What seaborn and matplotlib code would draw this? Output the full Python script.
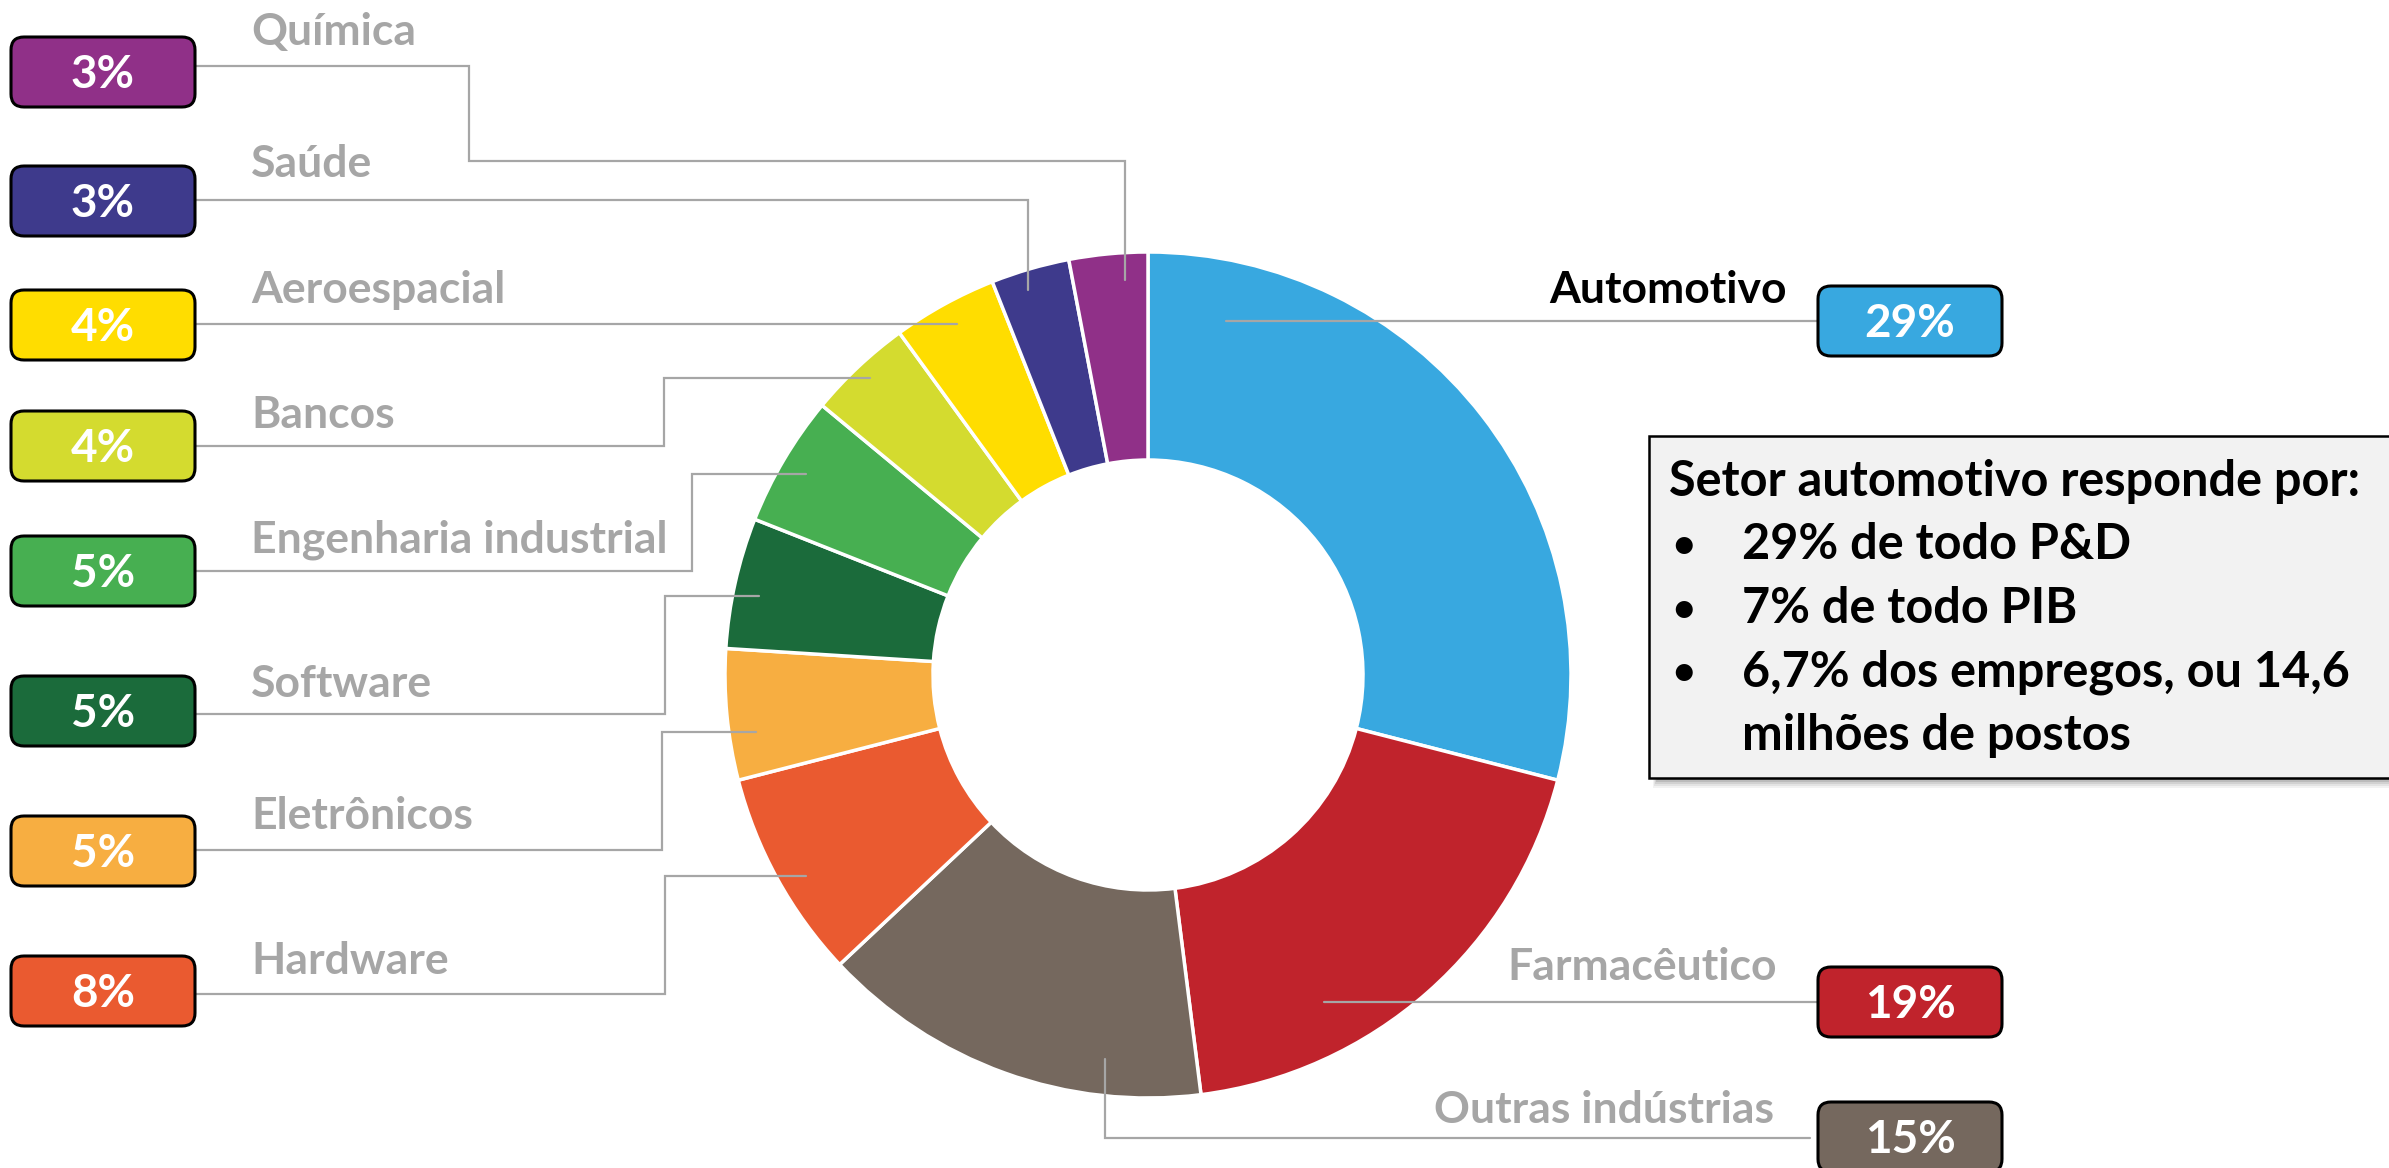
import numpy as np
import matplotlib
matplotlib.use("Agg")
import matplotlib.pyplot as plt
from matplotlib import font_manager
from matplotlib.patches import FancyBboxPatch, Rectangle
import seaborn as sns

# data, clockwise from the top
sectors = ["Automotivo", "Farmacêutico", "Outras indústrias", "Hardware", "Eletrônicos",
           "Software", "Engenharia industrial", "Bancos", "Aeroespacial", "Saúde", "Química"]
shares = [29, 19, 15, 8, 5, 5, 5, 4, 4, 3, 3]
colors = ["#38A8E0", "#C0232C", "#75685E", "#EA5A30", "#F7AE41", "#1B6B3B",
          "#47AF51", "#D4DB2F", "#FFDD00", "#3E3A8C", "#903088"]
summary_title = "Setor automotivo responde por:"
summary_items = ["29% de todo P&D", "7% de todo PIB", "6,7% dos empregos, ou 14,6", "milhões de postos"]
summary_bullets = [True, True, True, False]

# canvas in pixels, y measured downwards from the top
W, H = 2389, 1168
CX, CY = 1148, 675
R_OUT, R_IN = 423, 215
GRAY = "#A6A6A6"


def Y(y):
    return H - y


def pick_font(candidates):
    names = {f.name for f in font_manager.fontManager.ttflist}
    for c in candidates:
        if c in names:
            return c
    return "DejaVu Sans"


# label layout: box (left, top), label text anchor, leader waypoints, last segment
# direction and radius fraction where the leader ends inside the wedge
layout = {
    "Química": dict(box=(11, 37), text=(251, 45, "left"),
                    path=[(195, 66), (469, 66), (469, 161), (1125, 161)], end="v", f=0.936),
    "Saúde": dict(box=(11, 166), text=(251, 177, "left"),
                  path=[(195, 200), (1028, 200)], end="v", f=0.953),
    "Aeroespacial": dict(box=(11, 290), text=(251, 303, "left"),
                         path=[(195, 324)], end="h", f=0.945),
    "Bancos": dict(box=(11, 411), text=(251, 428, "left"),
                   path=[(195, 446), (664, 446), (664, 378)], end="h", f=0.961),
    "Engenharia industrial": dict(box=(11, 536), text=(251, 553, "left"),
                                  path=[(195, 571), (692, 571), (692, 474)], end="h", f=0.938),
    "Software": dict(box=(11, 676), text=(251, 697, "left"),
                     path=[(195, 714), (665, 714), (665, 596)], end="h", f=0.938),
    "Eletrônicos": dict(box=(11, 816), text=(251, 829, "left"),
                        path=[(195, 850), (662, 850), (662, 732)], end="h", f=0.936),
    "Hardware": dict(box=(11, 956), text=(251, 974, "left"),
                     path=[(195, 994), (665, 994), (665, 876)], end="h", f=0.938),
    "Outras indústrias": dict(box=(1818, 1102), text=(1774, 1123, "right"),
                              path=[(1810, 1138), (1105, 1138)], end="v", f=0.913),
    "Farmacêutico": dict(box=(1818, 967), text=(1777, 980, "right"),
                         path=[(1818, 1002)], end="h", f=0.878),
    "Automotivo": dict(box=(1818, 286), text=(1787, 303, "right"),
                       path=[(1818, 321)], end="h", f=0.857),
}
BOX_W, BOX_H = 184, 70

sns.set_theme(style="white")
font = pick_font(["Liberation Sans Narrow", "Lato", "Open Sans"])
plt.rcParams["font.family"] = [font, "DejaVu Sans"]

palette = sns.color_palette(colors)

fig = plt.figure(figsize=(W / 100, H / 100), dpi=100)
ax = fig.add_axes([0, 0, 1, 1])

wedges, _ = ax.pie(shares, colors=palette, startangle=90, counterclock=False,
                   radius=R_OUT, center=(CX, Y(CY)),
                   wedgeprops=dict(width=R_OUT - R_IN, edgecolor="white", linewidth=2.5))
ax.set_xlim(0, W)
ax.set_ylim(0, H)
ax.set_aspect("auto")
ax.axis("off")

for name, value, color, wedge in zip(sectors, shares, palette, wedges):
    lay = layout[name]
    mid = np.deg2rad((wedge.theta1 + wedge.theta2) / 2)
    r = lay["f"] * R_OUT
    lx, ly = lay["path"][-1]
    if lay["end"] == "h":
        dy = CY - ly
        ax_x = CX + np.sign(np.cos(mid)) * np.sqrt(r ** 2 - dy ** 2)
        anchor = (ax_x, ly)
    else:
        dx = lx - CX
        ax_y = CY - np.sign(np.sin(mid)) * np.sqrt(r ** 2 - dx ** 2)
        anchor = (lx, ax_y)
    pts = lay["path"] + [anchor]
    ax.plot([p[0] for p in pts], [Y(p[1]) for p in pts], color=GRAY, lw=1.6,
            solid_joinstyle="miter", zorder=3)

    bx, by = lay["box"]
    ax.add_patch(FancyBboxPatch((bx, Y(by + BOX_H)), BOX_W, BOX_H,
                                boxstyle="round,pad=0,rounding_size=13",
                                facecolor=color, edgecolor="black", lw=2.2, zorder=4))
    ax.text(bx + BOX_W / 2, Y(by + BOX_H / 2 + 16), f"{value}%", color="white",
            fontsize=33, fontweight="bold", ha="center", va="baseline", zorder=5)

    tx, ty, ha = lay["text"]
    ax.text(tx, Y(ty), name, color="black" if name == "Automotivo" else GRAY,
            fontsize=32, fontweight="bold", ha=ha, va="baseline", zorder=5)

# summary box with a soft drop shadow, running off the right edge
left, top, bottom = 1649, 436, 778
for i, a in enumerate([0.05, 0.06, 0.08, 0.10, 0.12]):
    off = 10 - i * 2
    ax.add_patch(Rectangle((left + 4 + i, Y(bottom + off)), W, bottom - top,
                           facecolor="black", edgecolor="none", alpha=a, zorder=5))
ax.add_patch(Rectangle((left, Y(bottom)), W, bottom - top, facecolor="#F2F2F2",
                       edgecolor="black", lw=1.8, zorder=6))
ax.text(1669, Y(496), summary_title, fontsize=35, fontweight="bold", color="black",
        ha="left", va="baseline", zorder=7)
for i, (item, bullet) in enumerate(zip(summary_items, summary_bullets)):
    base = 559 + i * 63.7
    if bullet:
        ax.text(1672, Y(base - 2), "•", fontsize=28, fontweight="bold", color="black",
                ha="left", va="baseline", zorder=7)
    ax.text(1742, Y(base), item, fontsize=35, fontweight="bold", color="black",
            ha="left", va="baseline", zorder=7)

fig.savefig("out.png", dpi=100)
